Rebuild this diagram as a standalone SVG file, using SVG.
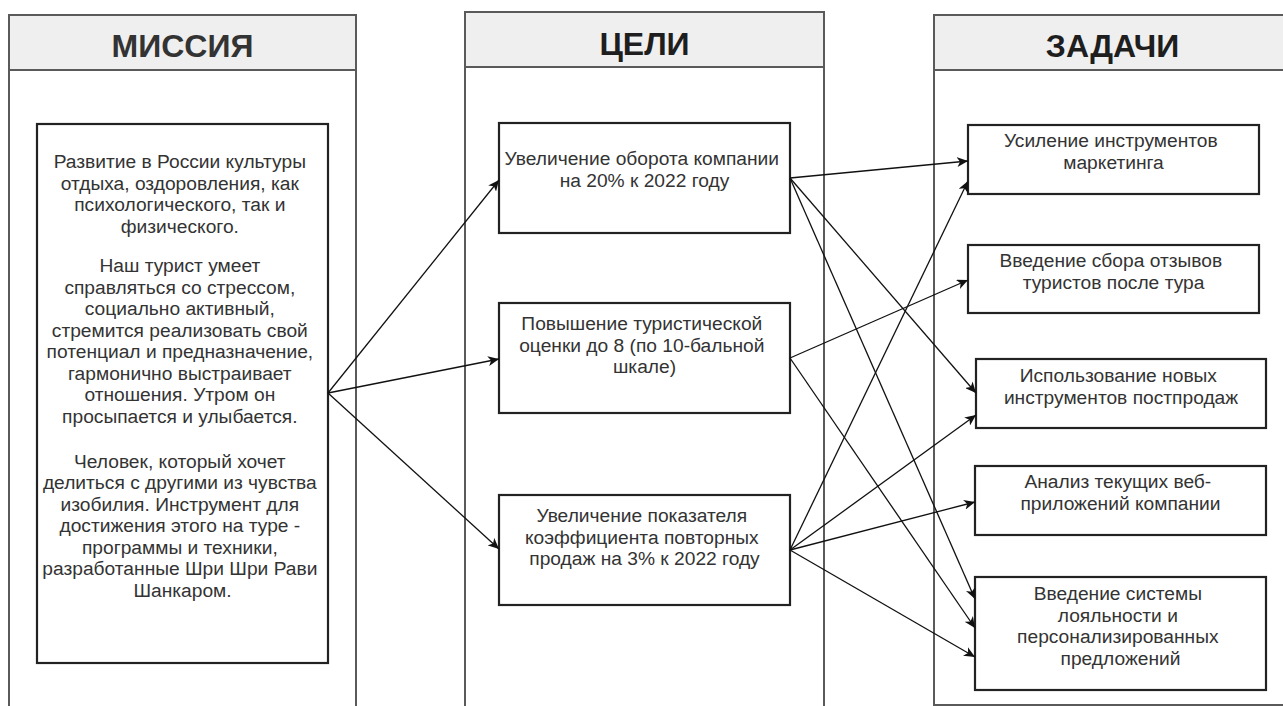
<svg xmlns="http://www.w3.org/2000/svg" width="1283" height="706" viewBox="0 0 1283 706">
  <style>
    .lane { fill: #ffffff; stroke: #5a5a5a; stroke-width: 2; }
    .lane-head { fill: #efefef; stroke: #5a5a5a; stroke-width: 2; }
    .lane-title { font-family: "Liberation Sans", Arial, sans-serif; font-size: 32px; font-weight: bold; fill: #1e1e1e; text-anchor: middle; }
    .box { fill: #ffffff; stroke: #222222; stroke-width: 2.2; }
    .label { font-family: "Liberation Sans", Arial, sans-serif; font-size: 19.2px; fill: #333333; text-anchor: middle; }
    .edge { fill: none; stroke: #111111; stroke-width: 1.3; marker-end: url(#arrow); }
  </style>
  <defs>
    <marker id="arrow" viewBox="0 0 12 10" refX="11" refY="5" markerWidth="12" markerHeight="10" markerUnits="userSpaceOnUse" orient="auto">
      <path d="M0,0 L11,5 L0,10 L3,5 Z" fill="#111111"/>
    </marker>
  </defs>

  <rect width="1283" height="706" fill="#ffffff"/>

  <!-- Swimlanes -->
  <g id="lane-mission">
    <rect class="lane" x="9" y="15" width="347" height="700"/>
    <rect class="lane-head" x="9" y="15" width="347" height="55"/>
    <text class="lane-title" x="182.5" y="57" style="fill:#333333">МИССИЯ</text>
  </g>
  <g id="lane-goals">
    <rect class="lane" x="465" y="12" width="359" height="703"/>
    <rect class="lane-head" x="465" y="12" width="359" height="55"/>
    <text class="lane-title" x="644.5" y="55">ЦЕЛИ</text>
  </g>
  <g id="lane-tasks">
    <rect class="lane" x="934" y="15" width="357" height="690"/>
    <rect class="lane-head" x="934" y="15" width="357" height="55"/>
    <text class="lane-title" x="1112.5" y="57">ЗАДАЧИ</text>
  </g>

  <!-- Mission -->
  <g id="mission">
    <rect class="box" x="37" y="124" width="291" height="539"/>
    <text class="label">
      <tspan x="182.5" y="168">Развитие в России культуры</tspan>
      <tspan x="182.5" y="189.5">отдыха, оздоровления, как</tspan>
      <tspan x="182.5" y="211">психологического, так и</tspan>
      <tspan x="182.5" y="232.5">физического.</tspan>
      <tspan x="182.5" y="272">Наш турист умеет</tspan>
      <tspan x="182.5" y="293.5">справляться со стрессом,</tspan>
      <tspan x="182.5" y="315">социально активный,</tspan>
      <tspan x="182.5" y="336.5">стремится реализовать свой</tspan>
      <tspan x="182.5" y="358">потенциал и предназначение,</tspan>
      <tspan x="182.5" y="379.5">гармонично выстраивает</tspan>
      <tspan x="182.5" y="401">отношения. Утром он</tspan>
      <tspan x="182.5" y="422.5">просыпается и улыбается.</tspan>
      <tspan x="182.5" y="467.5">Человек, который хочет</tspan>
      <tspan x="182.5" y="489">делиться с другими из чувства</tspan>
      <tspan x="182.5" y="510.5">изобилия. Инструмент для</tspan>
      <tspan x="182.5" y="532">достижения этого на туре -</tspan>
      <tspan x="182.5" y="553.5">программы и техники,</tspan>
      <tspan x="182.5" y="575">разработанные Шри Шри Рави</tspan>
      <tspan x="182.5" y="596.5">Шанкаром.</tspan>
    </text>
  </g>

  <!-- Goals -->
  <g id="goal-turnover">
    <rect class="box" x="499" y="123" width="291" height="110"/>
    <text class="label">
      <tspan x="644.5" y="165">Увеличение оборота компании</tspan>
      <tspan x="644.5" y="187">на 20% к 2022 году</tspan>
    </text>
  </g>
  <g id="goal-rating">
    <rect class="box" x="499" y="303" width="291" height="110"/>
    <text class="label">
      <tspan x="644.5" y="330">Повышение туристической</tspan>
      <tspan x="644.5" y="351.5">оценки до 8 (по 10-бальной</tspan>
      <tspan x="644.5" y="373">шкале)</tspan>
    </text>
  </g>
  <g id="goal-repeat">
    <rect class="box" x="499" y="495" width="291" height="110"/>
    <text class="label">
      <tspan x="644.5" y="522">Увеличение показателя</tspan>
      <tspan x="644.5" y="543.5">коэффициента повторных</tspan>
      <tspan x="644.5" y="565">продаж на 3% к 2022 году</tspan>
    </text>
  </g>

  <!-- Tasks -->
  <g id="task-marketing">
    <rect class="box" x="968" y="125" width="291" height="69"/>
    <text class="label">
      <tspan x="1113.5" y="147">Усиление инструментов</tspan>
      <tspan x="1113.5" y="169">маркетинга</tspan>
    </text>
  </g>
  <g id="task-feedback">
    <rect class="box" x="968" y="245" width="291" height="68"/>
    <text class="label">
      <tspan x="1113.5" y="267">Введение сбора отзывов</tspan>
      <tspan x="1113.5" y="289">туристов после тура</tspan>
    </text>
  </g>
  <g id="task-postsale">
    <rect class="box" x="976" y="359" width="290" height="69"/>
    <text class="label">
      <tspan x="1121" y="382">Использование новых</tspan>
      <tspan x="1121" y="404">инструментов постпродаж</tspan>
    </text>
  </g>
  <g id="task-webapps">
    <rect class="box" x="975" y="466" width="291" height="69"/>
    <text class="label">
      <tspan x="1120.5" y="488">Анализ текущих веб-</tspan>
      <tspan x="1120.5" y="510">приложений компании</tspan>
    </text>
  </g>
  <g id="task-loyalty">
    <rect class="box" x="975" y="577" width="291" height="113"/>
    <text class="label">
      <tspan x="1120.5" y="600">Введение системы</tspan>
      <tspan x="1120.5" y="621.5">лояльности и</tspan>
      <tspan x="1120.5" y="643">персонализированных</tspan>
      <tspan x="1120.5" y="664.5">предложений</tspan>
    </text>
  </g>

  <!-- Connectors -->
  <g id="connectors">
    <path class="edge" d="M328,393 L499,180"/>
    <path class="edge" d="M328,393 L499,359"/>
    <path class="edge" d="M328,393 L499,549"/>

    <path class="edge" d="M790,178 L968,161"/>
    <path class="edge" d="M790,178 L976,393"/>
    <path class="edge" d="M790,178 L975,599"/>

    <path class="edge" d="M790,358 L968,280"/>
    <path class="edge" d="M790,358 L975,628"/>

    <path class="edge" d="M790,550 L968,181"/>
    <path class="edge" d="M790,550 L976,415"/>
    <path class="edge" d="M790,550 L975,502"/>
    <path class="edge" d="M790,550 L975,657"/>
  </g>
</svg>
